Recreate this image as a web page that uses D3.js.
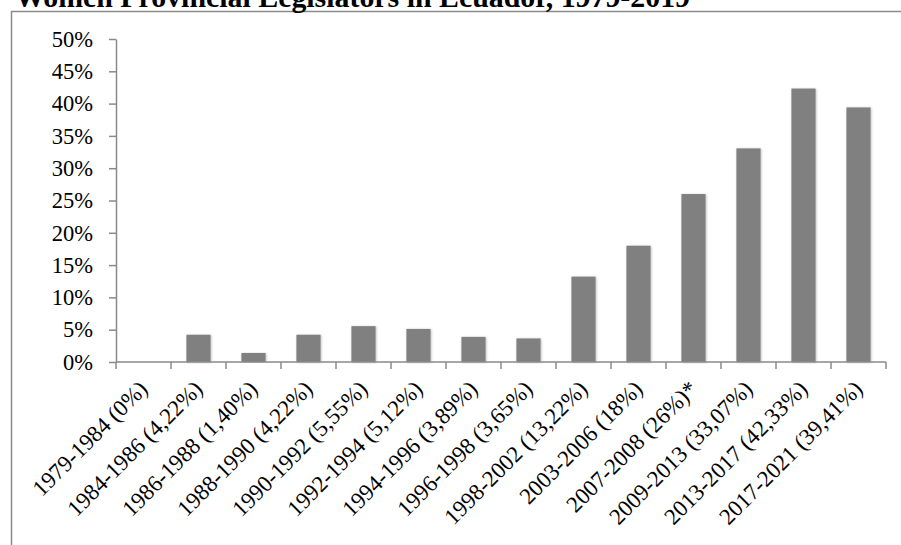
<!DOCTYPE html>
<html>
<head>
<meta charset="utf-8">
<script src="https://cdn.jsdelivr.net/npm/d3@7"></script>
<style>
  html, body { margin: 0; padding: 0; background: #fff; }
  svg { display: block; }
</style>
</head>
<body>
<svg id="chart" width="901" height="545"></svg>
<script>
// Legislative periods and share of women among provincial legislators (%)
const periods = [
  "1979-1984 (0%)", "1984-1986 (4,22%)", "1986-1988 (1,40%)", "1988-1990 (4,22%)",
  "1990-1992 (5,55%)", "1992-1994 (5,12%)", "1994-1996 (3,89%)", "1996-1998 (3,65%)",
  "1998-2002 (13,22%)", "2003-2006 (18%)", "2007-2008 (26%)*", "2009-2013 (33,07%)",
  "2013-2017 (42,33%)", "2017-2021 (39,41%)"
];
const shares = [0, 4.22, 1.40, 4.22, 5.55, 5.12, 3.89, 3.65, 13.22, 18, 26, 33.07, 42.33, 39.41];
const yTicks = [0, 5, 10, 15, 20, 25, 30, 35, 40, 45, 50];
const title = "Women Provincial Legislators in Ecuador, 1979-2019";

const svg = d3.select("#chart");
const serif = "'Liberation Serif', 'Times New Roman', serif";
const axisGrey = "#8a8a8a";

// soft shadow for the bars
const defs = svg.append("defs");
const f = defs.append("filter").attr("id", "barShadow")
  .attr("x", "-30%").attr("y", "-10%").attr("width", "160%").attr("height", "120%");
f.append("feDropShadow").attr("dx", 0.8).attr("dy", 0.5)
  .attr("stdDeviation", 1.2).attr("flood-color", "#000").attr("flood-opacity", 0.25);

// frame around the chart area
svg.append("path")
  .attr("d", "M11.5,545 V11.5 H901")
  .attr("fill", "none").attr("stroke", axisGrey).attr("stroke-width", 1.5);

// title, sitting on the top edge of the frame
svg.append("text")
  .attr("x", 15).attr("y", 7)
  .attr("font-family", serif).attr("font-weight", "bold").attr("font-size", 30)
  .attr("textLength", 675).attr("lengthAdjust", "spacingAndGlyphs")
  .attr("fill", "#000")
  .text(title);

const x = d3.scaleBand().domain(periods).range([116, 886]).padding(0);
const y = d3.scaleLinear().domain([0, 50]).range([362, 39]);

// bars
const barW = x.bandwidth() * 0.44;
svg.append("g").selectAll("rect")
  .data(shares)
  .join("rect")
  .attr("x", (d, i) => x(periods[i]) + (x.bandwidth() - barW) / 2)
  .attr("y", d => y(d))
  .attr("width", barW)
  .attr("height", d => y(0) - y(d))
  .attr("fill", "#808080")
  .attr("filter", "url(#barShadow)");

// y axis
const yAxis = svg.append("g")
  .attr("transform", `translate(${x.range()[0]},0)`)
  .call(d3.axisLeft(y).tickValues(yTicks).tickSize(7).tickSizeOuter(0)
    .tickFormat(d => d + "%"));
yAxis.select(".domain").attr("stroke", axisGrey).attr("stroke-width", 1.5);
yAxis.selectAll(".tick line").attr("stroke", axisGrey).attr("stroke-width", 1.5);
yAxis.selectAll(".tick text")
  .attr("x", -23)
  .attr("font-family", serif).attr("font-size", 22.5).attr("fill", "#000");

// x axis: baseline with ticks at category boundaries
const xAxis = svg.append("g");
xAxis.append("line")
  .attr("x1", x.range()[0]).attr("x2", x.range()[1])
  .attr("y1", y(0)).attr("y2", y(0))
  .attr("stroke", axisGrey).attr("stroke-width", 1.5);
const bounds = periods.map(p => x(p)).concat([x.range()[1]]);
xAxis.selectAll("line.tk")
  .data(bounds)
  .join("line").attr("class", "tk")
  .attr("x1", d => d).attr("x2", d => d)
  .attr("y1", y(0)).attr("y2", y(0) + 7)
  .attr("stroke", axisGrey).attr("stroke-width", 1.5);

// rotated category labels
xAxis.selectAll("text")
  .data(periods)
  .join("text")
  .attr("transform", d => `translate(${x(d) + x.bandwidth() / 2 - 6},379) rotate(-45)`)
  .attr("text-anchor", "end")
  .attr("dy", "0.7em")
  .attr("font-family", serif).attr("font-size", 23).attr("fill", "#000")
  .text(d => d);
</script>
</body>
</html>
